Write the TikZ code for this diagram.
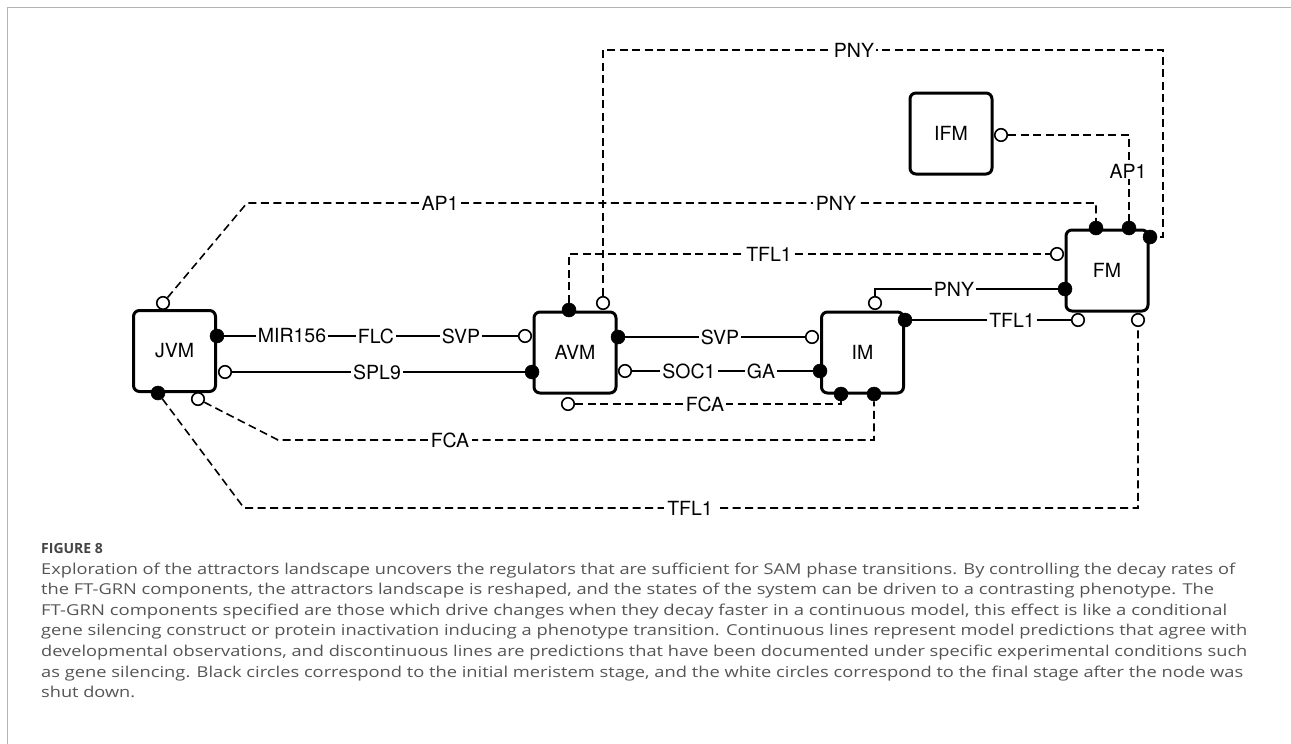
\documentclass[tikz,border=0pt]{standalone}
\usepackage{fontspec}
\usepackage{graphicx}
\newfontfamily\hvfont{TeX Gyre Heros}
\newfontfamily\capfont{Open Sans}
\newcommand\diafont{\hvfont\fontsize{19.5}{22}\selectfont}
\definecolor{capgray}{HTML}{555555}
\definecolor{capdark}{HTML}{444444}
\definecolor{framegray}{HTML}{B4B4B4}
\begin{document}
\begin{tikzpicture}[x=1pt,y=-1pt,
  box/.style={draw, line width=3pt, rounded corners=6pt, minimum width=82pt, minimum height=81pt, inner sep=0pt, font=\diafont},
  bdot/.style={circle, fill=black, draw=black, line width=0.5pt, minimum size=14pt, inner sep=0pt},
  wdot/.style={circle, fill=white, draw=black, line width=1.6pt, minimum size=12.5pt, inner sep=0pt},
  sol/.style={line width=2.8pt},
  dsh/.style={line width=1.6pt, dash pattern=on 8pt off 4.5pt},
  lbl/.style={fill=white, inner xsep=2pt, inner ysep=1pt, font=\diafont},
  dlbl/.style={fill=white, inner xsep=3pt, inner ysep=1pt, font=\diafont},
  capline/.style={anchor=base west, inner sep=0pt, text=capgray, font=\capfont\fontsize{15}{18}\selectfont}]
\useasboundingbox (0,0) rectangle (1291,744);
\fill[white] (0,0) rectangle (1291,744);
\draw[framegray, line width=1.2pt] (7.5,744) -- (7.5,7.5) -- (1291,7.5);

% boxes
\node[box] (JVM) at (174.5,351) {JVM};
\node[box] (AVM) at (575,352.5) {AVM};
\node[box] (IM) at (862.5,352.5) {IM};
\node[box] (IFM) at (951,133.5) {IFM};
\node[box] (FM) at (1107,270.5) {FM};

% dots
\node[bdot] (jR1) at (217,336) {};
\node[wdot] (jR2) at (225,372) {};
\node[wdot] (jT) at (163,303) {};
\node[bdot] (jB1) at (158,393) {};
\node[wdot] (jB2) at (198,399) {};
\node[wdot] (aL1) at (525,336) {};
\node[bdot] (aL2) at (532,372) {};
\node[bdot] (aT1) at (569,310) {};
\node[wdot] (aT2) at (603,303) {};
\node[bdot] (aR1) at (618,337) {};
\node[wdot] (aR2) at (625,371) {};
\node[wdot] (aB) at (568,404) {};
\node[wdot] (iL1) at (812,337) {};
\node[bdot] (iL2) at (820,371) {};
\node[wdot] (iT) at (875,303) {};
\node[bdot] (iR) at (905,320) {};
\node[bdot] (iB1) at (841,394) {};
\node[bdot] (iB2) at (874,394) {};
\node[wdot] (fR) at (1001,135) {};
\node[bdot] (mT1) at (1096,228) {};
\node[bdot] (mT2) at (1129,228) {};
\node[bdot] (mR) at (1150,237) {};
\node[wdot] (mL1) at (1057,254) {};
\node[bdot] (mL2) at (1065,289) {};
\node[wdot] (mB1) at (1078,320) {};
\node[wdot] (mB2) at (1138,320) {};

% bend points
\coordinate (d1a) at (247,203);
\coordinate (d1b) at (1096,203);
\coordinate (d3a) at (603,50);
\coordinate (d3b) at (1163,50);
\coordinate (d3c) at (1163,237);
\coordinate (d5a) at (278,440);
\coordinate (d6a) at (244,508);

% dashed connectors
\draw[dsh] (jT) -- (d1a) -- (d1b) -- (mT1);
\draw[dsh] (aT2) -- (d3a) -- (d3b) -- (d3c) -- (mR);
\draw[dsh] (aT1) |- (mL1);
\draw[dsh] (fR) -| (mT2);
\draw[dsh] (aB) -| (iB1);
\draw[dsh] (jB2) -- (d5a) -| (iB2);
\draw[dsh] (jB1) -- (d6a) -| (mB2);

% solid connectors
\draw[sol] (jR1) -- (aL1);
\draw[sol] (jR2) -- (aL2);
\draw[sol] (aR1) -- (iL1);
\draw[sol] (aR2) -- (iL2);
\draw[sol] (iT) |- (mL2);
\draw[sol] (iR) -- (mB1);

% labels
\node[lbl] (lMIR) at (292,336) {MIR156\hspace{8pt}};
\node[lbl] (lFLC) at (376,336) {FLC};
\node[lbl] (lSVPa) at (461,336) {SVP};
\node[lbl] (lSPL) at (377,372) {SPL9};
\node[lbl] (lSVPb) at (720,337) {SVP};
\node[lbl] (lSOC) at (689,371) {SOC1};
\node[lbl] (lGA) at (761,371) {GA};
\node[lbl] (lPNYs) at (954,289) {PNY};
\node[lbl] (lTFLs) at (1012,320) {TFL1\hspace{5pt}};
\node[dlbl] (lAPa) at (440,203) {AP1};
\node[dlbl] (lPNYa) at (836,203) {PNY};
\node[lbl] (lPNYt) at (854,50) {PNY};
\node[dlbl] (lTFLd) at (769,254) {TFL1};
\node[dlbl] (lAPb) at (1128,171) {AP1};
\node[lbl] (lFCAa) at (705,404) {FCA};
\node[dlbl] (lFCAb) at (450,440) {FCA};
\node[dlbl] (lTFLb) at (690,508) {TFL1};

% caption
\node[anchor=base west, inner sep=0pt, text=capdark, font=\capfont\bfseries\fontsize{14}{16}\selectfont] (fig) at (41,553) {FIGURE 8};
\node[capline] (c1) at (41,574) {\resizebox{1194pt}{\height}{Exploration of the attractors landscape uncovers the regulators that are sufficient for SAM phase transitions. By controlling the decay rates of}};
\node[capline] (c2) at (41,594.6) {\resizebox{1173pt}{\height}{the FT-GRN components, the attractors landscape is reshaped, and the states of the system can be driven to a contrasting phenotype. The}};
\node[capline] (c3) at (41,615.2) {\resizebox{1186pt}{\height}{FT-GRN components specified are those which drive changes when they decay faster in a continuous model, this effect is like a conditional}};
\node[capline] (c4) at (41,635.8) {\resizebox{1206pt}{\height}{gene silencing construct or protein inactivation inducing a phenotype transition. Continuous lines represent model predictions that agree with}};
\node[capline] (c5) at (41,656.4) {\resizebox{1206pt}{\height}{developmental observations, and discontinuous lines are predictions that have been documented under specific experimental conditions such}};
\node[capline] (c6) at (41,677) {\resizebox{1202pt}{\height}{as gene silencing. Black circles correspond to the initial meristem stage, and the white circles correspond to the final stage after the node was}};
\node[capline] (c7) at (41,697.6) {\resizebox{94pt}{\height}{shut down.}};
\end{tikzpicture}
\end{document}
